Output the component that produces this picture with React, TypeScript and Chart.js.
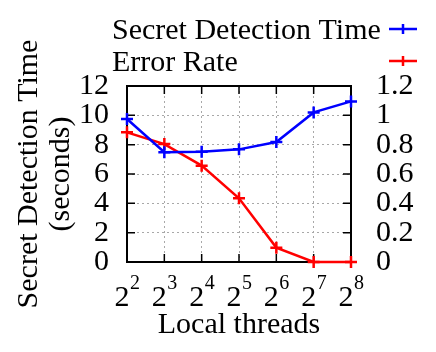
import React, { useEffect, useRef } from "react";
import { Chart, registerables } from "chart.js";

Chart.register(...registerables);

const threadBase = "2";
const threadExponents = ["2", "3", "4", "5", "6", "7", "8"];
const threads = threadExponents.map((e) => `${threadBase}^${e}`);
const detectionTime = [9.75, 7.48, 7.52, 7.68, 8.18, 10.2, 10.95];
const errorRate = [0.884, 0.804, 0.657, 0.434, 0.098, 0, 0];
const leftTicks = ["0", "2", "4", "6", "8", "10", "12"];
const rightTicks = ["0", "0.2", "0.4", "0.6", "0.8", "1", "1.2"];
const seriesNames = ["Secret Detection Time", "Error Rate"];
const seriesColors = ["#0000ff", "#ff0000"];

const FONT = '"Liberation Serif", "Times New Roman", serif';
const FS = 30;
const SUP = 20;

const framePlugin = {
  id: "frame",
  beforeDatasetsDraw(chart: any) {
    const { ctx, chartArea } = chart;
    const { left, right, top, bottom } = chartArea;
    const x = chart.scales.x;
    const y = chart.scales.y;
    ctx.save();
    ctx.strokeStyle = "#000";
    ctx.lineWidth = 1.5;
    const tl = 8;
    ctx.beginPath();
    for (let i = 0; i < threads.length; i++) {
      const px = x.getPixelForValue(i);
      ctx.moveTo(px, bottom);
      ctx.lineTo(px, bottom - tl);
      ctx.moveTo(px, top);
      ctx.lineTo(px, top + tl);
    }
    for (let i = 0; i < leftTicks.length; i++) {
      const py = y.getPixelForValue(Number(leftTicks[i]));
      ctx.moveTo(left, py);
      ctx.lineTo(left + tl, py);
      ctx.moveTo(right, py);
      ctx.lineTo(right - tl, py);
    }
    ctx.stroke();
    ctx.lineWidth = 2;
    ctx.strokeRect(left, top, right - left, bottom - top);
    ctx.restore();
  },
  afterDraw(chart: any) {
    const { ctx, chartArea } = chart;
    const x = chart.scales.x;
    ctx.save();
    // x tick labels with superscript exponents
    ctx.fillStyle = "#000";
    ctx.textBaseline = "alphabetic";
    ctx.textAlign = "left";
    for (let i = 0; i < threadExponents.length; i++) {
      const px = x.getPixelForValue(i);
      ctx.font = `${FS}px ${FONT}`;
      const wb = ctx.measureText(threadBase).width;
      ctx.font = `${SUP}px ${FONT}`;
      const we = ctx.measureText(threadExponents[i]).width;
      const x0 = px - (wb + we) / 2;
      ctx.font = `${FS}px ${FONT}`;
      ctx.fillText(threadBase, x0, chartArea.bottom + 44);
      ctx.font = `${SUP}px ${FONT}`;
      ctx.fillText(threadExponents[i], x0 + wb + 0.5, chartArea.bottom + 27);
    }
    // legend (text left-justified, samples on the right)
    ctx.font = `${FS}px ${FONT}`;
    ctx.textAlign = "left";
    const rows = [39, 71];
    for (let i = 0; i < seriesNames.length; i++) {
      const yy = rows[i];
      ctx.fillStyle = "#000";
      ctx.fillText(seriesNames[i], 112, yy);
      const ly = yy - 10;
      ctx.strokeStyle = seriesColors[i];
      ctx.lineWidth = 2.5;
      ctx.beginPath();
      ctx.moveTo(389, ly);
      ctx.lineTo(417, ly);
      ctx.moveTo(403, ly - 5);
      ctx.lineTo(403, ly + 5);
      ctx.stroke();
    }
    ctx.restore();
  },
};

export default function App() {
  const ref = useRef<HTMLCanvasElement>(null);
  useEffect(() => {
    if (!ref.current) return;
    const chart = new Chart(ref.current, {
      type: "line",
      data: {
        labels: threads,
        datasets: [
          {
            label: seriesNames[0],
            data: detectionTime,
            borderColor: seriesColors[0],
            backgroundColor: seriesColors[0],
            borderWidth: 2.5,
            pointStyle: "cross",
            pointRadius: 6,
            pointBorderWidth: 2.5,
            yAxisID: "y",
            clip: false,
          },
          {
            label: seriesNames[1],
            data: errorRate,
            borderColor: seriesColors[1],
            backgroundColor: seriesColors[1],
            borderWidth: 2.5,
            pointStyle: "cross",
            pointRadius: 6,
            pointBorderWidth: 2.5,
            yAxisID: "y2",
            clip: false,
          },
        ],
      },
      options: {
        animation: false,
        responsive: false,
        layout: { padding: { top: 86, left: 0, right: 0, bottom: 0 } },
        plugins: { legend: { display: false }, tooltip: { enabled: false } },
        scales: {
          x: {
            type: "category",
            offset: false,
            grid: {
              color: "#a8a8a8",
              lineWidth: 1,
              drawTicks: false,
            },
            border: { display: false, dash: [2, 3] },
            ticks: {
              display: false,
              autoSkip: false,
              maxRotation: 0,
            },
            title: {
              display: true,
              text: "Local threads",
              color: "#000",
              font: { family: FONT, size: FS },
              padding: { top: 0, bottom: 9 },
            },
            afterFit(s: any) {
              s.height = 90;
            },
          },
          y: {
            position: "left",
            min: 0,
            max: 12,
            grid: { color: "#a8a8a8", lineWidth: 1, drawTicks: false },
            border: { display: false, dash: [2, 3] },
            ticks: {
              stepSize: 2,
              autoSkip: false,
              color: "#000",
              font: { family: FONT, size: FS },
              padding: 18,
              callback: (_v: any, i: number) => leftTicks[i],
            },
            title: {
              display: true,
              text: ["Secret Detection Time", "(seconds)"],
              color: "#000",
              font: { family: FONT, size: FS, lineHeight: 1.07 },
              padding: { top: 13, bottom: 0 },
            },
            afterFit(s: any) {
              s.width = 127;
            },
          },
          y2: {
            position: "right",
            min: 0,
            max: 1.2,
            grid: { display: false, drawTicks: false },
            border: { display: false },
            ticks: {
              stepSize: 0.2,
              autoSkip: false,
              color: "#000",
              font: { family: FONT, size: FS },
              padding: 25,
              callback: (_v: any, i: number) => rightTicks[i],
            },
            afterFit(s: any) {
              s.width = 85;
            },
          },
        },
      },
      plugins: [framePlugin],
    });
    return () => chart.destroy();
  }, []);
  return (
    <div style={{ position: "absolute", left: 0, top: 0, width: 436, height: 352, background: "#fff" }}>
      <canvas ref={ref} width={436} height={352} />
    </div>
  );
}
